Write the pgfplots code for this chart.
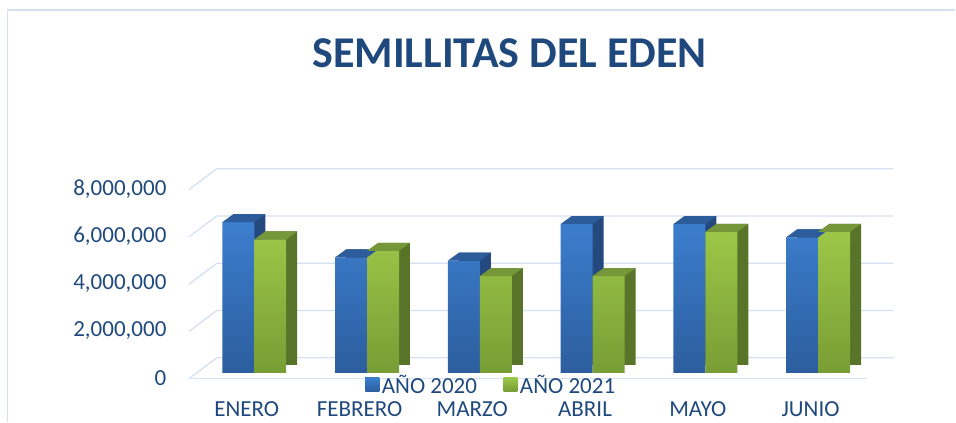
\documentclass[border=0pt]{standalone}
\usepackage{pgfplots}
\usepackage{pgfplotstable}
\pgfplotsset{compat=1.18}
\usepackage{fontspec}
\setmainfont{Carlito}
\definecolor{txt}{HTML}{1F497D}
\definecolor{gridc}{HTML}{D5E1F1}
\definecolor{blueT}{HTML}{3C7ECE}
\definecolor{blueB}{HTML}{2C5E9E}
\definecolor{blueTop}{HTML}{2D5C9A}
\definecolor{blueS}{HTML}{24497F}
\definecolor{greenT}{HTML}{9CC748}
\definecolor{greenB}{HTML}{789D35}
\definecolor{greenTop}{HTML}{76963A}
\definecolor{greenS}{HTML}{587429}

\pgfdeclareplotmark{boxtop}{%
  \pgfpathmoveto{\pgfqpoint{-16pt}{0pt}}%
  \pgfpathlineto{\pgfqpoint{16pt}{0pt}}%
  \pgfpathlineto{\pgfqpoint{27pt}{8pt}}%
  \pgfpathlineto{\pgfqpoint{-5pt}{8pt}}%
  \pgfpathclose\pgfusepathqfill}

\pgfplotstableread{
x y20 y21
0 6370000 5640000
1 4880000 5160000
2 4740000 4090000
3 6290000 4090000
4 6290000 5960000
5 5730000 5960000
}\data

\begin{document}
\begin{tikzpicture}[x=1pt,y=1pt]
\path (0,0) rectangle (956,422);
\draw[gridc, line width=1.2pt] (7.5,0) -- (7.5,412) -- (956,412);
\node[font=\fontsize{44}{50}\selectfont\bfseries, text=txt, anchor=base] at (510,354) {SEMILLITAS DEL EDEN};
\begin{axis}[
  at={(198pt,49pt)}, anchor=south west, scale only axis,
  width=677pt, height=189.2pt,
  xmin=-0.5, xmax=5.5, ymin=0, ymax=8000000,
  clip=false,
  axis line style={draw=none},
  major tick length=0pt,
  xtick={0,1,2,3,4,5},
  xticklabels={ENERO,FEBRERO,MARZO,ABRIL,MAYO,JUNIO},
  ytick={0,2000000,4000000,6000000,8000000},
  scaled y ticks=false,
  /pgf/number format/assume math mode=true,
  yticklabel style={/pgf/number format/fixed, /pgf/number format/1000 sep={,}, xshift=-28pt, yshift=-5pt},
  xticklabel style={xshift=-7.5pt, yshift=-25pt},
  ticklabel style={font=\fontsize{23}{27}\selectfont, text=txt},
  legend style={at={(0.434,-0.066)}, anchor=center, draw=none, fill=none,
    font=\fontsize{23}{27}\selectfont, text=txt, inner sep=0pt,
    nodes={inner xsep=2.5pt, inner ysep=0pt},
    /tikz/every even column/.append style={column sep=24pt}},
  legend columns=2,
]
\pgfplotsinvokeforeach{0,2000000,4000000,6000000,8000000}{
  \draw[gridc, line width=1.3pt] ([xshift=-9pt,yshift=-6pt]axis cs:-0.5,#1) -- ([xshift=19pt,yshift=15pt]axis cs:-0.5,#1) -- ([xshift=19pt,yshift=15pt]axis cs:5.5,#1);
}
\draw[gridc, line width=1.3pt] ([xshift=-9pt,yshift=-6pt]axis cs:-0.5,0) -- ([xshift=-8pt,yshift=-6pt]axis cs:5.5,0);
% ---- AÑO 2020 ----
\addplot[forget plot, ybar, bar width=32pt, draw=none, fill=blueS, bar shift=-16pt, xshift=11pt, yshift=8pt] table[x=x,y=y20] {\data};
\addplot[ybar, bar width=32pt, draw=none, top color=blueT, bottom color=blueB, bar shift=-16pt,
  legend image code/.code={\fill[blueT!60!blueB] (0pt,-6pt) rectangle (14pt,8pt);}] table[x=x,y=y20] {\data};
\addlegendentry{AÑO 2020}
\addplot[forget plot, only marks, mark=boxtop, draw=none, fill=blueTop, mark options={draw=none, fill=blueTop}, xshift=-16pt] table[x=x,y=y20] {\data};
% ---- AÑO 2021 ----
\addplot[forget plot, ybar, bar width=32pt, draw=none, fill=greenS, bar shift=16pt, xshift=11pt, yshift=8pt] table[x=x,y=y21] {\data};
\addplot[ybar, bar width=32pt, draw=none, top color=greenT, bottom color=greenB, bar shift=16pt,
  legend image code/.code={\fill[greenT!75!greenB] (0pt,-6pt) rectangle (14pt,8pt);}] table[x=x,y=y21] {\data};
\addlegendentry{AÑO 2021}
\addplot[forget plot, only marks, mark=boxtop, draw=none, fill=greenTop, mark options={draw=none, fill=greenTop}, xshift=16pt] table[x=x,y=y21] {\data};
\end{axis}
\end{tikzpicture}
\end{document}
